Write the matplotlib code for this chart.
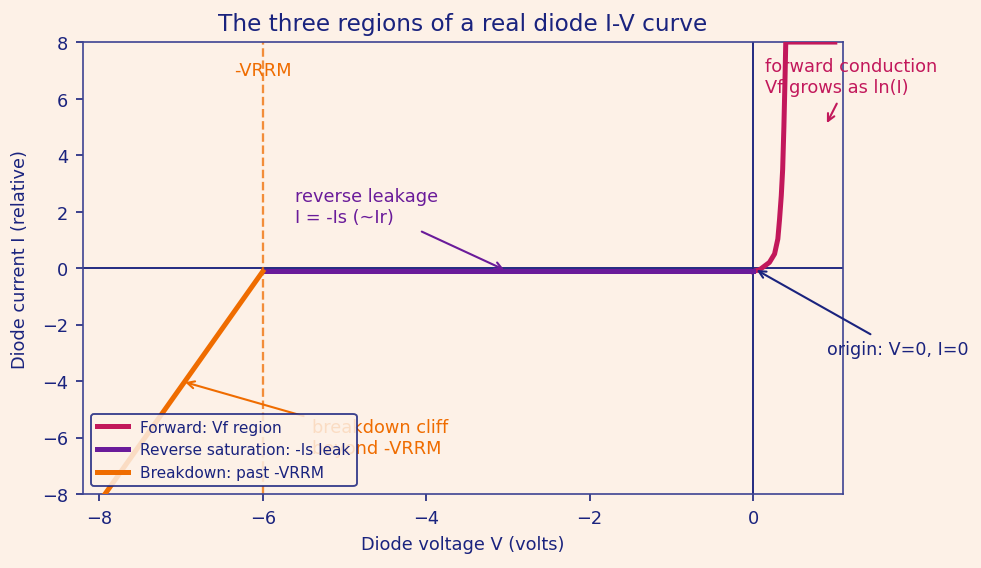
import matplotlib
matplotlib.use('Agg')
import matplotlib.pyplot as plt

# values
fwd_v = [0.0, 0.08, 0.2, 0.263, 0.303, 0.324, 0.345, 0.362, 0.377, 0.39, 0.40, 1.0]
fwd_i = [-0.12, -0.06, 0.2, 0.5, 1.03, 1.73, 2.56, 3.5, 5.0, 6.6, 8.0, 8.0]
rev_v = [-6.0, 0.0]
rev_i = [-0.12, -0.12]
brk_v = [-8.2, -6.0]
brk_i = [-9.1, -0.12]
vrrm = -6.0

bg = '#fdf1e7'
navy = '#1a237e'
crimson = '#c2185b'
purple = '#6a1b9a'
orange = '#ef6c00'

plt.rcParams['font.family'] = 'DejaVu Sans'
plt.rcParams['font.size'] = 8.5

fig, ax = plt.subplots(figsize=(6.54, 3.793), dpi=150)
fig.patch.set_facecolor(bg)
ax.set_facecolor(bg)
fig.subplots_adjust(left=0.0846, right=0.8593, top=0.9244, bottom=0.130)

ax.axhline(0, color=navy, lw=0.9, zorder=1)
ax.axvline(0, color=navy, lw=0.9, zorder=1)
ax.axvline(vrrm, color=orange, lw=1.1, ls='--', alpha=0.75, zorder=1)

ax.plot(fwd_v, fwd_i, color=crimson, lw=2.4, label='Forward: Vf region', zorder=3)
ax.plot(rev_v, rev_i, color=purple, lw=2.4, label='Reverse saturation: -Is leak', zorder=3)
ax.plot(brk_v, brk_i, color=orange, lw=2.4, label='Breakdown: past -VRRM', zorder=3)

ax.text(vrrm, 7.0, '-VRRM', color=orange, ha='center', va='center', fontsize=8.5)

ax.annotate('forward conduction\nVf grows as ln(I)', xy=(0.88, 5.0), xytext=(0.14, 6.1),
            color=crimson, va='bottom', ha='left',
            arrowprops=dict(arrowstyle='->', color=crimson, lw=1.0))
ax.annotate('reverse leakage\nI = -Is (~Ir)', xy=(-3.0, -0.12), xytext=(-5.6, 1.5),
            color=purple, va='bottom', ha='left',
            arrowprops=dict(arrowstyle='->', color=purple, lw=1.0))
ax.annotate('breakdown cliff\nbeyond -VRRM', xy=(-7.0, -4.0), xytext=(-5.4, -6.7),
            color=orange, va='bottom', ha='left',
            arrowprops=dict(arrowstyle='->', color=orange, lw=1.0))
ax.annotate('origin: V=0, I=0', xy=(0.0, 0.0), xytext=(0.9, -3.2),
            color=navy, va='bottom', ha='left', fontsize=8.4,
            arrowprops=dict(arrowstyle='->', color=navy, lw=1.0))

ax.set_xlim(-8.2, 1.1)
ax.set_ylim(-8, 8)
ax.set_xticks([-8, -6, -4, -2, 0])
ax.set_yticks([-8, -6, -4, -2, 0, 2, 4, 6, 8])

ax.set_title('The three regions of a real diode I-V curve', color=navy, fontsize=11.2)
ax.set_xlabel('Diode voltage V (volts)', color=navy)
ax.set_ylabel('Diode current I (relative)', color=navy)
ax.yaxis.set_label_coords(-0.071, 0.52)
ax.tick_params(colors=navy, labelcolor=navy)
for s in ax.spines.values():
    s.set_color('#3d4492')

leg = ax.legend(loc='lower left', fontsize=7.4, frameon=True, facecolor=bg,
                edgecolor=navy, framealpha=0.85, labelcolor=navy)
leg.get_frame().set_linewidth(0.9)

fig.savefig('out.png', dpi=150, facecolor=bg)
